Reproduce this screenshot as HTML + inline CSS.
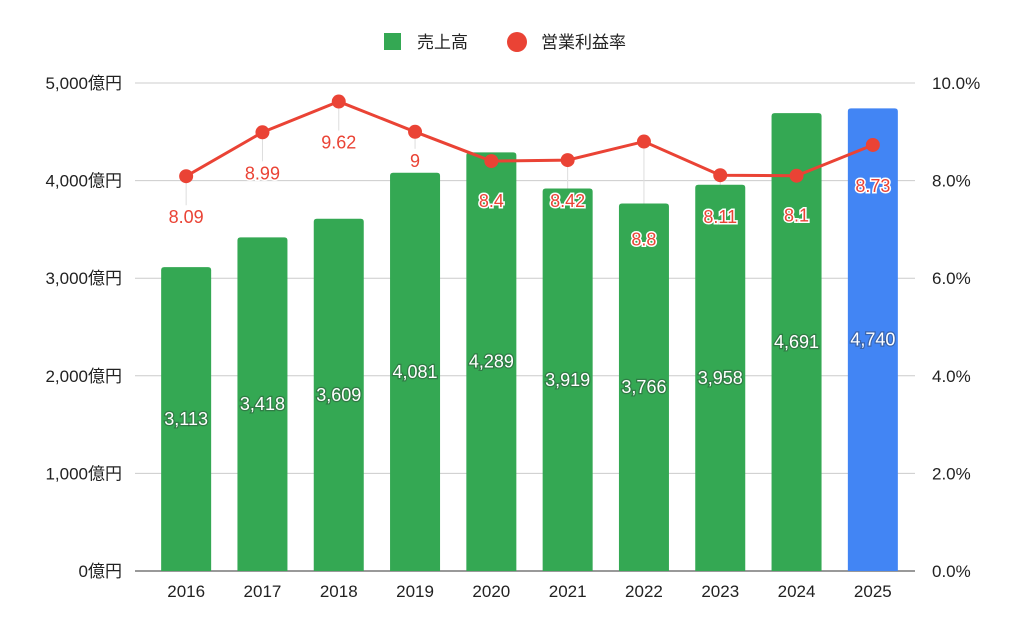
<!DOCTYPE html>
<html><head><meta charset="utf-8"><style>
body{margin:0;background:#fff;}
svg{font-family:"Liberation Sans","Noto Sans CJK JP",sans-serif;}
</style></head><body>
<svg id="c" width="1024" height="633" viewBox="0 0 1024 633">
<g>
<rect x="384" y="33" width="17" height="17" fill="#34a853"/>
<text x="417" y="48" font-size="17" fill="#222">売上高</text>
<circle cx="517" cy="42" r="10" fill="#ea4335"/>
<text x="541" y="48" font-size="17" fill="#222">営業利益率</text>
</g>
<g id="grid"></g><g id="bars"></g><g id="line"></g><g id="labels"></g><g id="axes"></g>
</svg>
<script>
const categories=["2016","2017","2018","2019","2020","2021","2022","2023","2024","2025"];
const sales=[3113,3418,3609,4081,4289,3919,3766,3958,4691,4740];
const margin=[8.09,8.99,9.62,9,8.4,8.42,8.8,8.11,8.1,8.73];
const leftTicks=[0,1000,2000,3000,4000,5000];
const rightTicks=[0,2,4,6,8,10];
const labelDodge=[41,41,41,29,40,41,98,42,40,41];
const NS="http://www.w3.org/2000/svg";
const x0=148,x1=911,yb=571,yt=83;
const band=(x1-x0)/categories.length;
const xc=i=>x0+band*(i+0.5);
const yL=v=>yb-v/5000*(yb-yt);
const yR=v=>yb-v/10*(yb-yt);
function mk(t,a,p){const e=document.createElementNS(NS,t);for(const k in a)e.setAttribute(k,a[k]);document.getElementById(p).appendChild(e);return e;}
leftTicks.forEach((v,i)=>{
 const y=yL(v);
 const g=mk("line",{x1:135,x2:915,y1:y,y2:y,stroke:v===0?"#333":"#ccc","stroke-width":1},"grid");
 
 
 const t=mk("text",{x:122,y:y+6,"text-anchor":"end","font-size":17,fill:"#222"},"axes");
 t.textContent=v.toLocaleString("en-US")+"億円";
 
 
 const r=mk("text",{x:932,y:yR(rightTicks[i])+6,"font-size":17,fill:"#222"},"axes");
 r.textContent=rightTicks[i].toFixed(1)+"%";
 
 
});
categories.forEach((c,i)=>{
 const x=xc(i),w=50,top=yL(sales[i]);
 const b=mk("path",{d:`M${x-w/2},${yb} V${top+3} Q${x-w/2},${top} ${x-w/2+3},${top} H${x+w/2-3} Q${x+w/2},${top} ${x+w/2},${top+3} V${yb} Z`,fill:i===categories.length-1?"#4285f4":"#34a853"},"bars");
 
 
 const bl=mk("text",{x:x,y:(top+yb)/2+6,"text-anchor":"middle","font-size":18,fill:"#fff",stroke:"#2a2a2a","stroke-width":2.5,"paint-order":"stroke","stroke-opacity":0.35},"labels");
 bl.textContent=sales[i].toLocaleString("en-US");
 
 
 const xl=mk("text",{x:x,y:597,"text-anchor":"middle","font-size":17,fill:"#222"},"axes");
 xl.textContent=c;
 
 
});
const pts=margin.map((v,i)=>[xc(i),yR(v)]);
const pl=mk("polyline",{points:pts.map(p=>p.join(",")).join(" "),fill:"none",stroke:"#ea4335","stroke-width":3},"line");


pts.forEach((p,i)=>{
 const ly=p[1]+labelDodge[i];
 const ld=mk("line",{x1:p[0],x2:p[0],y1:p[1],y2:ly-12,stroke:"#ddd","stroke-width":1},"grid");
 
 
 const d=mk("circle",{cx:p[0],cy:p[1],r:7,fill:"#ea4335"},"line");
 
 
 const t=mk("text",{x:p[0],y:ly+6,"text-anchor":"middle","font-size":18,fill:"#ea4335",stroke:"#fff","stroke-width":3,"paint-order":"stroke"},"labels");
 t.textContent=String(margin[i]);
 
 
});
</script>
</body></html>
